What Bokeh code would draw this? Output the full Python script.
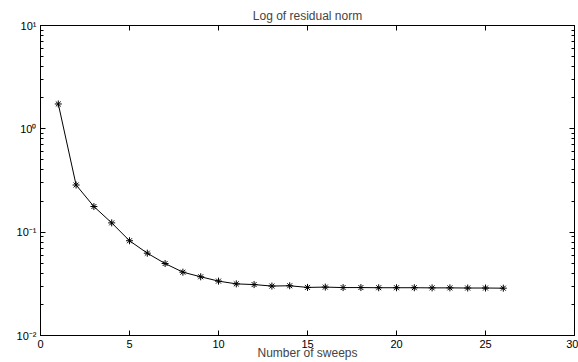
from bokeh.plotting import figure
from bokeh.models import LinearAxis, LogAxis, FixedTicker, Range1d
from bokeh.embed import file_html
from bokeh.resources import INLINE

sweeps = list(range(1, 27))
residual = [1.74, 0.286, 0.177, 0.123, 0.0826, 0.0626, 0.0497, 0.0410, 0.0370,
            0.0336, 0.0316, 0.0311, 0.0301, 0.0303, 0.0292, 0.0294, 0.0291,
            0.0291, 0.0290, 0.0290, 0.0290, 0.0289, 0.0289, 0.0288, 0.0288, 0.0287]

x_ticks = [0, 5, 10, 15, 20, 25, 30]
y_ticks = [0.01, 0.1, 1, 10]
y_tick_labels = {0.01: "10⁻²", 0.1: "10⁻¹", 1: "10⁰", 10: "10¹"}
y_minor = [m * d for d in [0.01, 0.1, 1] for m in range(2, 10)]

FONT = "Liberation Sans"

p = figure(width=578, height=362, output_backend="svg", toolbar_location=None,
           y_axis_type="log", x_range=Range1d(0, 30), y_range=Range1d(0.01, 10),
           min_border_left=40, min_border_right=4, min_border_top=25, min_border_bottom=27,
           x_axis_label="Number of sweeps")
p.title.text = "Log of residual norm"
p.title.align = "center"
p.title.text_font = FONT
p.title.text_font_size = "12px"
p.title.text_font_style = "normal"
p.title.standoff = 6

p.xgrid.visible = False
p.ygrid.visible = False
p.outline_line_color = "black"
p.background_fill_color = "white"
p.border_fill_color = "white"

def style(ax):
    ax.axis_line_color = "black"
    ax.major_tick_in = 5
    ax.major_tick_out = 0
    ax.minor_tick_in = 3
    ax.minor_tick_out = 0
    ax.major_tick_line_color = "black"
    ax.minor_tick_line_color = "black"
    ax.major_label_text_font = FONT
    ax.major_label_text_font_size = "11px"
    ax.major_label_text_color = "black"
    ax.major_label_standoff = 4
    ax.axis_label_text_font = FONT
    ax.axis_label_text_font_size = "12px"
    ax.axis_label_text_font_style = "normal"
    ax.axis_label_standoff = 0

xb = p.xaxis[0]
style(xb)
xb.ticker = FixedTicker(ticks=x_ticks)
xb.minor_tick_line_color = None
xb.axis_label_standoff = -5

yl = p.yaxis[0]
style(yl)
yl.ticker = FixedTicker(ticks=y_ticks, minor_ticks=y_minor)
yl.major_label_overrides = y_tick_labels
yl.major_label_standoff = 4

xt = LinearAxis(ticker=FixedTicker(ticks=x_ticks))
style(xt)
xt.minor_tick_line_color = None
xt.major_label_overrides = {t: "" for t in x_ticks}
xt.major_label_standoff = 0
p.add_layout(xt, "above")

yr = LogAxis(ticker=FixedTicker(ticks=y_ticks, minor_ticks=y_minor))
style(yr)
yr.major_label_overrides = {t: "" for t in y_ticks}
yr.major_label_standoff = 0
p.add_layout(yr, "right")

p.line(sweeps, residual, line_color="black", line_width=1)
p.scatter(sweeps, residual, marker="asterisk", size=7, line_color="black", line_width=1)

open("out.html", "w").write(file_html(p, INLINE))
